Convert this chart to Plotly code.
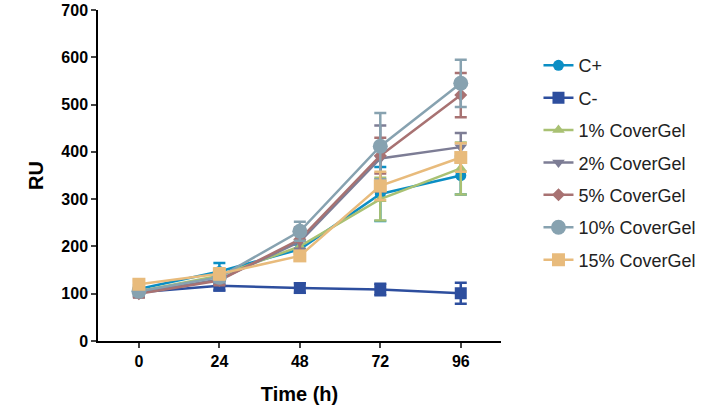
import plotly.graph_objects as go

time_h = [0, 24, 48, 72, 96]

series_names = ["C+", "C-", "1% CoverGel", "2% CoverGel", "5% CoverGel",
                "10% CoverGel", "15% CoverGel"]

c_pos = [110, 147, 194, 311, 350]
c_neg = [103, 117, 112, 109, 101]
cg_1 = [105, 138, 200, 300, 365]
cg_2 = [102, 130, 210, 386, 410]
cg_5 = [100, 128, 215, 392, 520]
cg_10 = [105, 135, 232, 412, 545]
cg_15 = [120, 142, 180, 328, 388]

err_c_pos = [8, 18, 10, 57, 40]
err_c_neg = [8, 10, 10, 12, 22]
err_1 = [8, 10, 12, 45, 55]
err_2 = [8, 10, 15, 70, 30]
err_5 = [8, 10, 25, 38, 47]
err_10 = [8, 10, 20, 70, 50]
err_15 = [8, 12, 10, 30, 30]

values = [c_pos, c_neg, cg_1, cg_2, cg_5, cg_10, cg_15]
errors = [err_c_pos, err_c_neg, err_1, err_2, err_5, err_10, err_15]
colors = ["#0b8ec4", "#2d4e9e", "#a9c173", "#7d7d95", "#a87272", "#87a2b0", "#e8bb7c"]
symbols = ["circle", "square", "triangle-up", "triangle-down", "diamond", "circle", "square"]
sizes = [11, 12, 11, 11, 10, 15, 13]

fig = go.Figure()
for i, name in enumerate(series_names):
    fig.add_trace(go.Scatter(
        x=time_h, y=values[i], name=name, mode="lines+markers",
        line=dict(color=colors[i], width=2.5),
        marker=dict(symbol=symbols[i], size=sizes[i], color=colors[i]),
        error_y=dict(type="data", array=errors[i], color=colors[i],
                     thickness=2.5, width=6),
        legendgroup=name,
    ))

fig.update_layout(
    width=708, height=411,
    margin=dict(l=98, r=207, t=10, b=70, autoexpand=False),
    paper_bgcolor="white", plot_bgcolor="white",
    font=dict(family="Arial, Liberation Sans, sans-serif", color="black"),
    legend=dict(x=1.093, y=0.888, xanchor="left", yanchor="top",
                font=dict(size=18, color="#222"), tracegroupgap=6,
                bgcolor="rgba(0,0,0,0)"),
)
fig.update_xaxes(
    range=[-12.2, 108], tickvals=time_h, ticks="outside", ticklen=5,
    tickwidth=1.5, showline=True, linecolor="black", linewidth=1.5,
    showgrid=False, zeroline=False, automargin=False,
    tickfont=dict(size=16, weight="bold"),
    title=dict(text="<b>Time (h)</b>", font=dict(size=20), standoff=18),
)
fig.update_yaxes(
    range=[0, 700], dtick=100, ticks="outside", ticklen=5, tickwidth=1.5,
    showline=True, linecolor="black", linewidth=1.5, showgrid=False,
    zeroline=False, automargin=False,
    tickfont=dict(size=16, weight="bold"),
    title=dict(text="<b>RU</b>", font=dict(size=20), standoff=12),
)

fig.write_html("out.html", config={"displayModeBar": False},
               post_script="document.body.style.margin='0';")
